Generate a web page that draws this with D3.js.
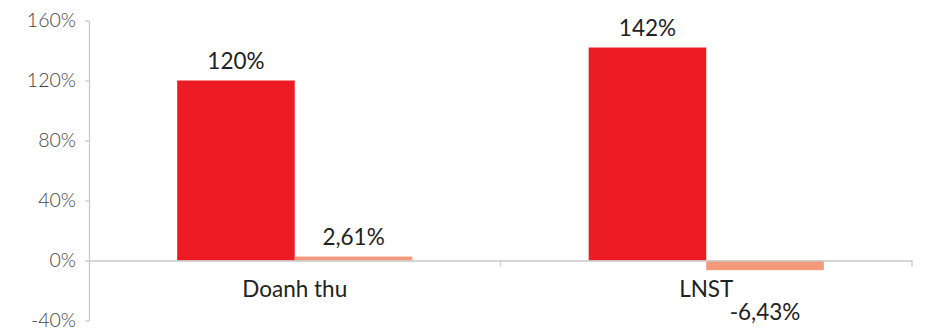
<!DOCTYPE html>
<html>
<head>
<meta charset="utf-8">
<script src="https://cdn.jsdelivr.net/npm/d3@7"></script>
<style>
  html, body { margin: 0; padding: 0; background: #fff; }
  svg { display: block; font-family: Lato, "Open Sans", sans-serif; }
</style>
</head>
<body>
<svg id="chart" width="927" height="328"></svg>
<script>
// Growth rates by metric (%)
const categories = ["Doanh thu", "LNST"];
const series = ["s1", "s2"];
const seriesColors = ["#ED1C24", "#F4997A"];
const valuesS1 = [120, 142];
const valuesS2 = [2.61, -6.43];
const labelsS1 = ["120%", "142%"];
const labelsS2 = ["2,61%", "-6,43%"];
const yTicks = [-40, 0, 40, 80, 120, 160];

(function draw() {
  const svg = d3.select("#chart");
  const plotLeft = 89, plotRight = 912, plotTop = 20.5, plotBottom = 320.5;

  const x = d3.scaleBand().domain(categories).range([plotLeft, plotRight]).padding(0);
  const xSub = d3.scaleBand().domain(series).range([0, x.bandwidth()]).paddingInner(0).paddingOuter(0.75);
  const y = d3.scaleLinear().domain([-40, 160]).range([plotBottom, plotTop]);

  const axisColor = "#c9c9c9";

  // Y axis
  const yAxis = svg.append("g")
    .attr("transform", `translate(${plotLeft},0)`)
    .call(d3.axisLeft(y).tickValues(yTicks).tickSize(4).tickSizeOuter(0).tickPadding(9).tickFormat(d => d + "%"));
  yAxis.select(".domain").attr("stroke", axisColor).attr("stroke-width", 1.3);
  yAxis.selectAll(".tick line").attr("stroke", axisColor).attr("stroke-width", 1.3);
  yAxis.selectAll(".tick text")
    .attr("fill", "#444")
    .style("font-size", "19.5px")
    .style("font-weight", 300)
    .style("font-family", "Lato, sans-serif");

  // Bars
  const rows = categories.map((c, i) => ({ cat: c, vals: [valuesS1[i], valuesS2[i]], labels: [labelsS1[i], labelsS2[i]] }));
  const groups = svg.append("g").selectAll("g").data(rows).join("g")
    .attr("transform", d => `translate(${x(d.cat)},0)`);

  groups.selectAll("rect").data(d => d.vals.map((v, j) => ({ s: series[j], v, j }))).join("rect")
    .attr("x", d => xSub(d.s))
    .attr("width", xSub.bandwidth())
    .attr("y", d => y(Math.max(0, d.v)))
    .attr("height", d => Math.abs(y(d.v) - y(0)))
    .attr("fill", d => seriesColors[d.j]);

  // X axis (zero line)
  const xAxis = svg.append("g")
    .attr("transform", `translate(0,${y(0)})`)
    .call(d3.axisBottom(x).tickSize(0).tickSizeOuter(0).tickPadding(21));
  xAxis.select(".domain").attr("stroke", axisColor).attr("stroke-width", 1.3);
  xAxis.selectAll(".tick text")
    .attr("fill", "#222")
    .style("font-size", "22.5px")
    .style("font-family", "Lato, sans-serif");
  // Category boundary ticks
  const boundaries = [x(categories[1]), plotRight];
  svg.append("g").selectAll("line").data(boundaries).join("line")
    .attr("x1", d => d).attr("x2", d => d)
    .attr("y1", y(0)).attr("y2", y(0) + 6)
    .attr("stroke", axisColor).attr("stroke-width", 1.3);

  // Value labels
  groups.selectAll("text.val").data(d => d.vals.map((v, j) => ({ s: series[j], v, j, label: d.labels[j] }))).join("text")
    .attr("class", "val")
    .attr("x", d => xSub(d.s) + xSub.bandwidth() / 2)
    .attr("y", d => d.v >= 0 ? y(d.v) - 12 : 320)
    .attr("text-anchor", "middle")
    .attr("fill", "#222")
    .style("font-size", "22.5px")
    .text(d => d.label);
})();
</script>
</body>
</html>
